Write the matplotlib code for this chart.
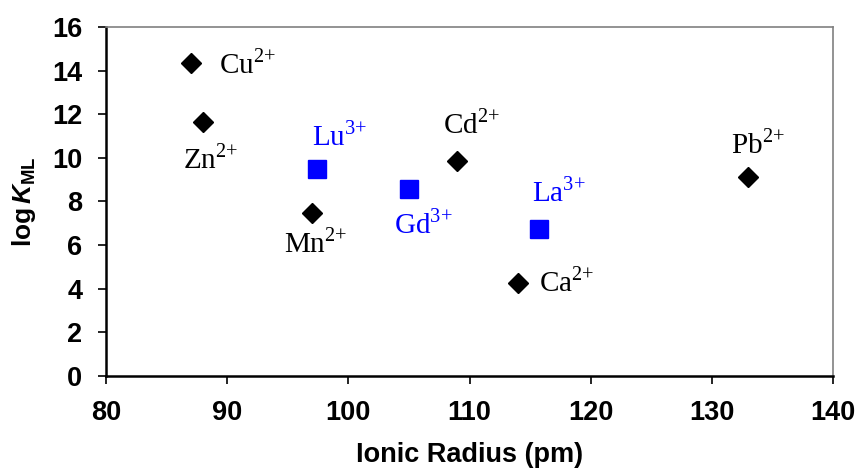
import numpy as np
import matplotlib
matplotlib.use("Agg")
import matplotlib.pyplot as plt

# divalent ions (black diamonds)
m2_names = ["Cu", "Zn", "Mn", "Cd", "Ca", "Pb"]
m2_radius = [87.0, 88.0, 97.0, 109.0, 114.0, 133.0]
m2_logk = [14.35, 11.65, 7.47, 9.86, 4.26, 9.12]

# trivalent lanthanides (blue squares)
m3_names = ["Lu", "Gd", "La"]
m3_radius = [97.4, 105.0, 115.7]
m3_logk = [9.49, 8.57, 6.74]

# label offsets (pixels) relative to each point
m2_offsets = [(28, -10), (-20, -46), (-28, -39), (-14, 28), (21, -8), (-17, 24)]
m3_offsets = [(-5, 24), (-15, -44), (-7, 28)]

plt.rcParams['mathtext.fontset'] = 'custom'
plt.rcParams['mathtext.rm'] = 'Liberation Serif'
plt.rcParams['mathtext.it'] = 'Liberation Sans:italic:bold'
plt.rcParams['mathtext.bf'] = 'Liberation Sans:bold'

fig = plt.figure(figsize=(8.58, 4.70), dpi=100)
ax = fig.add_axes([0.1235, 0.2, 0.8475, 0.7426])

ax.plot(m2_radius, m2_logk, linestyle='none', marker='D', markersize=10,
        color='black', markeredgecolor='black', markeredgewidth=1)
ax.plot(m3_radius, m3_logk, linestyle='none', marker='s', markersize=13.5,
        color='#0000ff', markeredgecolor='#0000ff', markeredgewidth=1)

for name, x, y, off in zip(m2_names, m2_radius, m2_logk, m2_offsets):
    ax.annotate(name + r'$^{2{+}}$', (x, y), xytext=off,
                textcoords='offset pixels', ha='left', va='baseline',
                family='Liberation Serif', fontsize=21, color='black')
for name, x, y, off in zip(m3_names, m3_radius, m3_logk, m3_offsets):
    ax.annotate(name + r'$^{3{+}}$', (x, y), xytext=off,
                textcoords='offset pixels', ha='left', va='baseline',
                family='Liberation Serif', fontsize=21, color='#0000ff')

ax.set_xlim(80, 140)
ax.set_ylim(0, 16)
ax.set_xticks(np.arange(80, 141, 10))
ax.set_yticks(np.arange(0, 17, 2))

for s in ['left', 'bottom']:
    ax.spines[s].set_color('black')
    ax.spines[s].set_linewidth(1.8)
for s in ['top', 'right']:
    ax.spines[s].set_color('#808080')
    ax.spines[s].set_linewidth(1.2)

ax.tick_params(direction='out', length=6, width=1.2, labelsize=19.5, pad=11)
for lab in ax.get_xticklabels() + ax.get_yticklabels():
    lab.set_family('Liberation Sans')
    lab.set_fontweight('bold')

ax.set_xlabel('Ionic Radius (pm)', family='Liberation Sans', fontweight='bold',
              fontsize=19.5, labelpad=12)
ax.set_ylabel(r'log$\,\mathit{K}_{\mathbf{ML}}$', family='Liberation Sans',
              fontweight='bold', fontsize=19, labelpad=10)

fig.savefig('out.png', dpi=100)
